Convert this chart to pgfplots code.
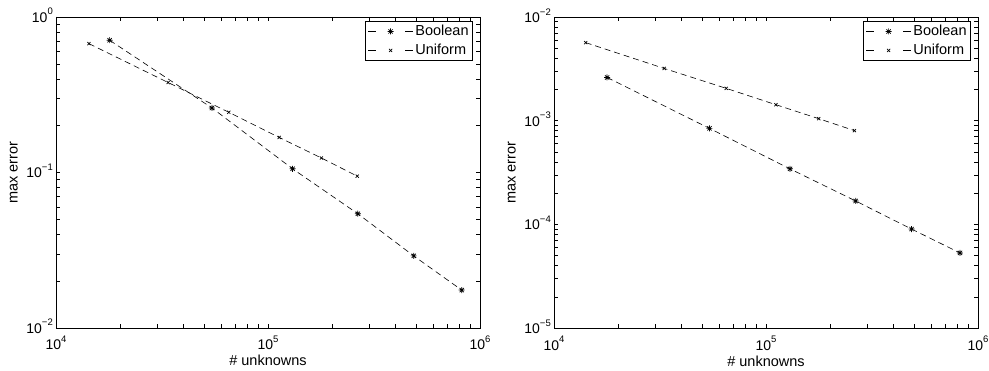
\documentclass[border=0pt]{standalone}
\usepackage{fontspec}
\setmainfont{Liberation Sans}
\usepackage{pgfplots}
\pgfplotsset{compat=1.18}
\newcommand{\fs}{\fontsize{14}{16}\selectfont}
\newcommand{\fl}{\fontsize{14.5}{16}\selectfont}
\newcommand{\sups}[1]{\raisebox{7.5pt}{\fontsize{9.5}{10}\selectfont #1}}
\pgfdeclareplotmark{mstar}{%
  \pgfpathmoveto{\pgfqpoint{-\pgfplotmarksize}{0pt}}\pgfpathlineto{\pgfqpoint{\pgfplotmarksize}{0pt}}%
  \pgfpathmoveto{\pgfqpoint{0pt}{-\pgfplotmarksize}}\pgfpathlineto{\pgfqpoint{0pt}{\pgfplotmarksize}}%
  \pgfpathmoveto{\pgfqpoint{-0.707\pgfplotmarksize}{-0.707\pgfplotmarksize}}\pgfpathlineto{\pgfqpoint{0.707\pgfplotmarksize}{0.707\pgfplotmarksize}}%
  \pgfpathmoveto{\pgfqpoint{-0.707\pgfplotmarksize}{0.707\pgfplotmarksize}}\pgfpathlineto{\pgfqpoint{0.707\pgfplotmarksize}{-0.707\pgfplotmarksize}}%
  \pgfusepathqstroke}
\tikzset{
  boolm/.style={mark=mstar, mark size=3pt},
  unifm/.style={mark=x, mark size=2.2pt},
}
\pgfplotsset{
  every axis plot/.append style={black, line width=0.6pt, dash pattern=on 6pt off 4pt, mark options={solid, line width=0.7pt}},
}
\begin{document}
\begin{tikzpicture}
\path[use as bounding box] (0,0) rectangle (989pt,371pt);
\begin{loglogaxis}[at={(56pt,43pt)}, anchor=south west,
  scale only axis, width=424pt, height=311pt,
  xmin=1e4, xmax=1e6,
  xtick={1e4,1e5,1e6},
  xticklabels={10\sups{4},10\sups{5},10\sups{6}},
  tick align=inside, xtick pos=both, ytick pos=both,
  major tick length=4pt, minor tick length=4pt,
  tick style={black, line width=0.5pt},
  axis line style={line width=0.8pt},
  tick label style={font=\fs},
  xticklabel style={anchor=base, yshift=-22pt},
  yticklabel style={anchor=base east, inner sep=0pt, xshift=-3pt, yshift=-5.5pt},
  label style={font=\fl},
  xlabel={\# unknowns}, ylabel={max error},
  xlabel style={at={([yshift=-38pt]axis description cs:0.5,0)}, anchor=base},
  ylabel style={at={([xshift=-38.5pt]axis description cs:0,0.5)}, anchor=base},
  legend style={at={(1,1)}, xshift=-7pt, yshift=-4pt, anchor=north east,
    font=\fl, draw=black, line width=0.8pt, inner sep=2pt, row sep=3pt,
    nodes={inner sep=2pt}},
  legend cell align=left,
  legend image code/.code={\draw[mark repeat=2,mark phase=2,line width=0.6pt,dash pattern=on 8pt off 29pt] plot coordinates {(0pt,0pt) (22.5pt,0pt) (45pt,0pt)};},
  ymin=1e-2, ymax=1,
  ytick={1e-2,1e-1,1},
  yticklabels={10\sups{−2},10\sups{−1},10\sups{0}}]
\addplot[boolm] coordinates {(17900,0.709) (54400,0.260) (130600,0.1056) (265300,0.0543) (486400,0.0291) (820000,0.01753)};
\addlegendentry{Boolean}
\addplot[unifm] coordinates {(14300,0.674) (33800,0.379) (65300,0.244) (113000,0.168) (178500,0.124) (263600,0.0947)};
\addlegendentry{Uniform}
\end{loglogaxis}
\begin{loglogaxis}[at={(554pt,43pt)}, anchor=south west,
  scale only axis, width=424pt, height=311pt,
  xmin=1e4, xmax=1e6,
  xtick={1e4,1e5,1e6},
  xticklabels={10\sups{4},10\sups{5},10\sups{6}},
  tick align=inside, xtick pos=both, ytick pos=both,
  major tick length=4pt, minor tick length=4pt,
  tick style={black, line width=0.5pt},
  axis line style={line width=0.8pt},
  tick label style={font=\fs},
  xticklabel style={anchor=base, yshift=-22pt},
  yticklabel style={anchor=base east, inner sep=0pt, xshift=-3pt, yshift=-5.5pt},
  label style={font=\fl},
  xlabel={\# unknowns}, ylabel={max error},
  xlabel style={at={([yshift=-38pt]axis description cs:0.5,0)}, anchor=base},
  ylabel style={at={([xshift=-38.5pt]axis description cs:0,0.5)}, anchor=base},
  legend style={at={(1,1)}, xshift=-7pt, yshift=-4pt, anchor=north east,
    font=\fl, draw=black, line width=0.8pt, inner sep=2pt, row sep=3pt,
    nodes={inner sep=2pt}},
  legend cell align=left,
  legend image code/.code={\draw[mark repeat=2,mark phase=2,line width=0.6pt,dash pattern=on 8pt off 29pt] plot coordinates {(0pt,0pt) (22.5pt,0pt) (45pt,0pt)};},
  ymin=1e-5, ymax=1e-2,
  ytick={1e-5,1e-4,1e-3,1e-2},
  yticklabels={10\sups{−5},10\sups{−4},10\sups{−3},10\sups{−2}}]
\addplot[boolm] coordinates {(17800,0.00261) (54100,0.000843) (129700,0.000343) (264900,0.000168) (486000,0.0000900) (822000,0.0000530)};
\addlegendentry{Boolean}
\addplot[unifm] coordinates {(14100,0.00566) (33100,0.00319) (64900,0.00205) (111400,0.001425) (177400,0.001045) (261200,0.000802)};
\addlegendentry{Uniform}
\end{loglogaxis}
\end{tikzpicture}
\end{document}
